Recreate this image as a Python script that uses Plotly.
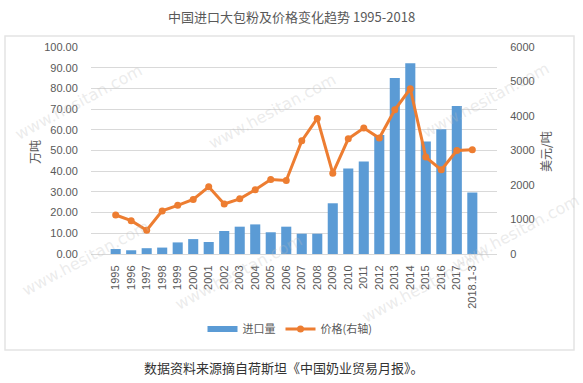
import plotly.graph_objects as go

categories = ["1995", "1996", "1997", "1998", "1999", "2000", "2001", "2002", "2003", "2004",
              "2005", "2006", "2007", "2008", "2009", "2010", "2011", "2012", "2013", "2014",
              "2015", "2016", "2017", "2018.1-3"]
import_volume = [2.4, 1.8, 2.8, 3.1, 5.6, 7.2, 5.8, 11.1, 13.2, 14.3,
                 10.5, 13.2, 9.8, 9.8, 24.5, 41.3, 44.7, 57.5, 85.0, 92.1,
                 54.3, 60.3, 71.5, 29.7]
price = [1130, 967, 690, 1250, 1410, 1580, 1950, 1450, 1600, 1860,
         2160, 2130, 3280, 3930, 2340, 3340, 3650, 3360, 4180, 4790,
         2810, 2440, 3000, 3020]

title_text = "中国进口大包粉及价格变化趋势 1995-2018"
caption_text = "数据资料来源摘自荷斯坦《中国奶业贸易月报》。"
left_title = "万吨"
right_title = "美元/吨"
bar_name = "进口量"
line_name = "价格(右轴)"
watermark = "www.hesitan.com"

W, H = 583, 383
L, R, T, B = 91, 86, 47, 129
pw, ph = W - L - R, H - T - B

def px(x):
    return (x - L) / pw

def py(y):
    return (H - B - y) / ph

tick_font = dict(family="Liberation Sans, Arial, sans-serif", size=11, color="#595959")
cjk = "Noto Sans CJK SC, sans-serif"
BLUE, ORANGE = "#5B9BD5", "#ED7D31"

fig = go.Figure()
fig.add_trace(go.Bar(
    x=categories, y=import_volume, name=bar_name, showlegend=False,
    marker=dict(color=BLUE, line=dict(width=0)),
    yaxis="y",
))
# legend entry drawn as a wide flat swatch like the reference
fig.add_trace(go.Scatter(
    x=[None], y=[None], name=bar_name, mode="lines",
    line=dict(color=BLUE, width=6), yaxis="y", hoverinfo="skip",
))
fig.add_trace(go.Scatter(
    x=categories, y=price, name=line_name, mode="lines+markers",
    line=dict(color=ORANGE, width=3),
    marker=dict(color=ORANGE, size=7),
    yaxis="y2",
))

def ann(text, x, y, font, angle=0):
    return dict(text=text, x=px(x), y=py(y), xref="paper", yref="paper",
                xanchor="center", yanchor="middle", showarrow=False,
                textangle=angle, font=font)

annotations = [
    ann(title_text, 291, 16, dict(family=cjk, size=13, color="#595959")),
    ann(caption_text, 284, 367, dict(family=cjk, size=13, color="#333333")),
    ann(left_title, 34, 152, dict(family=cjk, size=12, color="#595959"), -90),
    ann(right_title, 545, 152, dict(family=cjk, size=12, color="#595959"), -90),
]
for (wx, wy) in [(78, 102), (272, 112), (485, 100), (85, 258), (238, 272), (515, 232), (425, 285)]:
    annotations.append(ann(watermark, wx, wy,
                           dict(family="DejaVu Sans, sans-serif", size=16,
                                color="rgba(190,190,190,0.3)"), -28))

fig.update_layout(
    width=W, height=H,
    margin=dict(l=L, r=R, t=T, b=B, autoexpand=False),
    paper_bgcolor="white", plot_bgcolor="white",
    bargap=0.35,
    showlegend=True,
    legend=dict(orientation="h", x=px(290), xanchor="center", y=py(329), yanchor="middle",
                font=dict(family=cjk, size=11, color="#595959"), traceorder="normal",
                itemwidth=30, bgcolor="rgba(0,0,0,0)"),
    xaxis=dict(type="category", tickangle=-90, tickfont=tick_font, showgrid=False,
               showline=False, ticks="outside", ticklen=6, tickcolor="rgba(0,0,0,0)",
               automargin=False),
    yaxis=dict(range=[0, 100], dtick=10, tickformat=".2f", tickfont=tick_font,
               showgrid=True, gridcolor="#D9D9D9", gridwidth=1, zeroline=True,
               zerolinecolor="#D9D9D9", zerolinewidth=1, showline=False,
               ticks="outside", ticklen=10, tickcolor="rgba(0,0,0,0)", automargin=False),
    yaxis2=dict(range=[0, 6000], dtick=1000, tickfont=tick_font, overlaying="y", side="right",
                showgrid=False, zeroline=False, showline=False,
                ticks="outside", ticklen=10, tickcolor="rgba(0,0,0,0)", automargin=False),
    annotations=annotations,
    shapes=[dict(type="rect", xref="paper", yref="paper",
                 x0=px(5), x1=px(574), y0=py(350), y1=py(36),
                 line=dict(color="#E4E4E4", width=1.5), fillcolor="rgba(0,0,0,0)", layer="below")],
)

fig.write_html("out.html", config={"displayModeBar": False},
               post_script="document.body.style.margin='0';")
